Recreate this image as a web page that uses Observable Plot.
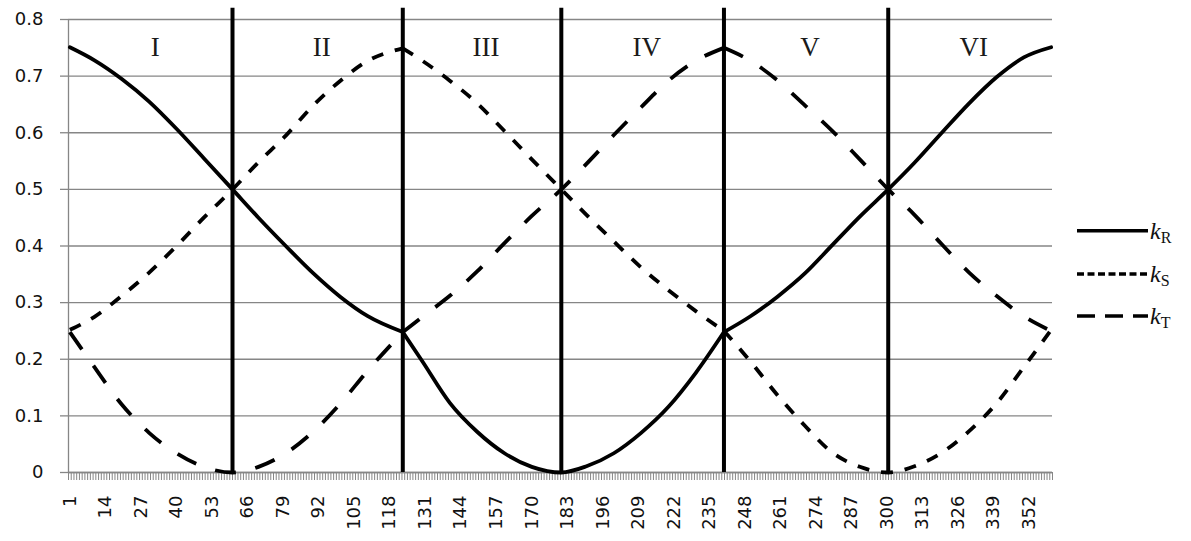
<!DOCTYPE html>
<html><head><meta charset="utf-8">
<script src="https://cdn.jsdelivr.net/npm/d3@7"></script>
<script src="https://cdn.jsdelivr.net/npm/@observablehq/plot@0.6"></script>
<style>
body{margin:0;background:#fff;}
#wrap{position:relative;width:1191px;height:541px;overflow:hidden;background:#fff;}
#legend{position:absolute;left:1060px;top:200px;}
</style></head><body><div id="wrap"></div>
<script>
// angle (category index along the x axis)
const angles = [1, 10, 20, 30, 40, 50, 60.5, 70, 80, 90, 100, 110, 122.8, 130, 140, 150, 160, 170, 180.8, 190, 200, 210, 220, 230, 240.3, 250, 260, 270, 280, 290, 300.4, 310, 320, 330, 340, 350, 360];
const kR = [0.751, 0.728, 0.695, 0.655, 0.607, 0.555, 0.500, 0.450, 0.400, 0.352, 0.310, 0.276, 0.248, 0.196, 0.123, 0.072, 0.034, 0.010, 0.000, 0.011, 0.034, 0.070, 0.116, 0.176, 0.248, 0.276, 0.311, 0.352, 0.402, 0.452, 0.500, 0.547, 0.600, 0.652, 0.698, 0.733, 0.751];
const kS = [0.252, 0.275, 0.312, 0.353, 0.400, 0.450, 0.500, 0.548, 0.595, 0.648, 0.692, 0.727, 0.749, 0.727, 0.692, 0.652, 0.603, 0.553, 0.500, 0.455, 0.408, 0.362, 0.322, 0.285, 0.250, 0.196, 0.136, 0.082, 0.035, 0.010, 0.000, 0.011, 0.035, 0.073, 0.122, 0.186, 0.252];
const kT = [0.248, 0.186, 0.120, 0.070, 0.034, 0.010, 0.000, 0.010, 0.034, 0.072, 0.122, 0.180, 0.248, 0.275, 0.312, 0.355, 0.405, 0.453, 0.500, 0.545, 0.596, 0.645, 0.692, 0.727, 0.750, 0.727, 0.692, 0.648, 0.603, 0.553, 0.500, 0.455, 0.403, 0.353, 0.312, 0.276, 0.250];
const xTickLabels = [1, 14, 27, 40, 53, 66, 79, 92, 105, 118, 131, 144, 157, 170, 183, 196, 209, 222, 235, 248, 261, 274, 287, 300, 313, 326, 339, 352];
const yTicks = [0, 0.1, 0.2, 0.3, 0.4, 0.5, 0.6, 0.7, 0.8];
const regionNames = ["I", "II", "III", "IV", "V", "VI"];
const regionBounds = [1, 60.5, 122.8, 180.8, 240.3, 300.4, 360];
const kinkAngles = [122.8, 240.3];   // where the curves change slope abruptly
const seriesNames = ["R", "S", "T"];

const dividers = regionBounds.slice(1, -1);
const regions = regionNames.map((name, i) => ({name, x: (regionBounds[i] + regionBounds[i + 1]) / 2}));
// split each series into pieces at the kink angles (shared end points) so the smoothing keeps the corners
const rowsOf = (vals) => {
  const out = [];
  angles.forEach((a, i) => {
    const seg = kinkAngles.filter(k => a > k).length;
    out.push({a, v: vals[i], seg});
    if (kinkAngles.includes(a)) out.push({a, v: vals[i], seg: seg + 1});
  });
  return out;
};
const minorTicks = d3.range(0.5, 361, 1);
const grid = "#868686";
const lineOpts = {x: "a", y: "v", z: "seg", stroke: "black", strokeWidth: 3.8, curve: "monotone-x"};

const plot = Plot.plot({
  width: 1191, height: 541,
  marginLeft: 68, marginRight: 139, marginTop: 19, marginBottom: 69,
  x: {domain: [0.5, 360.5]},
  y: {domain: [0, 0.8]},
  style: {background: "white", overflow: "visible"},
  marks: [
    Plot.gridY(yTicks, {stroke: grid, strokeOpacity: 1, strokeWidth: 1.3}),
    Plot.ruleX([0.5], {stroke: grid, strokeWidth: 1.3}),
    Plot.axisY(yTicks, {tickSize: 8, tickPadding: 17, stroke: grid, strokeWidth: 1.3, fill: "#111",
      tickFormat: d => String(d), fontSize: 18, fontFamily: "DejaVu Sans", label: null}),
    Plot.axisX(minorTicks, {tickSize: 8, tickFormat: () => "", stroke: grid, strokeWidth: 1, label: null}),
    Plot.axisX(xTickLabels, {tickSize: 0, tickPadding: 23, tickRotate: -90, fill: "#111",
      fontSize: 18, fontFamily: "DejaVu Sans", label: null}),
    Plot.ruleY([0], {stroke: grid, strokeWidth: 1.3}),
    Plot.line(rowsOf(kR), lineOpts),
    Plot.line(rowsOf(kS), {...lineOpts, strokeDasharray: "12,12", strokeLinecap: "butt"}),
    Plot.line(rowsOf(kT), {...lineOpts, strokeDasharray: "21,20", strokeLinecap: "butt"}),
    Plot.ruleX(dividers, {y1: 0, y2: 0.82, stroke: "black", strokeWidth: 4}),
    Plot.text(regions, {x: "x", y: () => 0.75, text: "name", dx: 4, fontFamily: "Liberation Serif", fontSize: 27, fill: "#1a1a1a", lineAnchor: "middle"})
  ]
});
const wrap = document.getElementById("wrap");
wrap.appendChild(plot);

// legend
const lg = d3.select(wrap).append("svg").attr("id", "legend").attr("width", 131).attr("height", 140);
const dashes = [null, "7,3.5", "18,10"];
const rowY = [30.7, 74, 116];
seriesNames.forEach((s, i) => {
  lg.append("line").attr("x1", 17).attr("x2", 88).attr("y1", rowY[i]).attr("y2", rowY[i])
    .attr("stroke", "black").attr("stroke-width", 3.5).attr("stroke-dasharray", dashes[i]);
  const t = lg.append("text").attr("x", 90).attr("y", rowY[i] + 8)
    .attr("font-family", "Liberation Serif").attr("font-size", 24).attr("fill", "#111");
  t.append("tspan").attr("font-style", "italic").text("k");
  t.append("tspan").attr("dy", 4).attr("font-size", 16).text(s);
});
</script></body></html>
